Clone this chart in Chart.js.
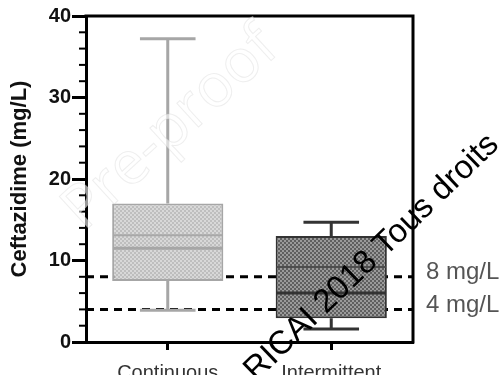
<!DOCTYPE html>
<html>
<head>
<meta charset="utf-8">
<script src="https://cdn.jsdelivr.net/npm/chart.js@4.4.0/dist/chart.umd.min.js"></script>
<style>
  html, body { margin: 0; padding: 0; background: #fff; }
  #wrap { width: 501px; height: 375px; }
</style>
</head>
<body>
<div id="wrap"><canvas id="myChart" width="501" height="375"></canvas></div>
<script>
// Box plot values
var categories = ['Continuous', 'Intermittent'];
var minValues = [3.9, 1.6];
var q1Values = [7.5, 2.9];
var medianValues = [11.5, 6.0];
var meanValues = [13.1, 9.2];
var q3Values = [17.0, 13.0];
var maxValues = [37.2, 14.7];

var thresholds = [8, 4];
var thresholdLabels = ['8 mg/L', '4 mg/L'];

var yMin = 0, yMax = 40;

// colours per box
var boxBase = ['#bebebe', '#5f5f5f'];
var boxDots = ['#d8d8d8', '#9a9a9a'];
var boxLine = ['#a6a6a6', '#333333'];
var meanLine = ['#a8a8a8', '#4e4e4e'];

function dotPattern(base, dot) {
    var c = document.createElement('canvas');
    c.width = 4; c.height = 4;
    var g = c.getContext('2d');
    g.fillStyle = base;
    g.fillRect(0, 0, 4, 4);
    g.fillStyle = dot;
    g.fillRect(0, 0, 2, 2);
    g.fillRect(2, 2, 2, 2);
    return g.createPattern(c, 'repeat');
}

var ctx = document.getElementById('myChart').getContext('2d');

var boxPlugin = {
    id: 'boxExtras',
    beforeDatasetsDraw: function (chart) {
        var c = chart.ctx, area = chart.chartArea;
        var x = chart.scales.x, y = chart.scales.y;
        c.save();
        // threshold lines (behind boxes)
        c.strokeStyle = '#000';
        c.lineWidth = 3;
        c.setLineDash([8, 6]);
        thresholds.forEach(function (t) {
            var py = y.getPixelForValue(t);
            c.beginPath();
            c.moveTo(area.left, py);
            c.lineTo(area.right, py);
            c.stroke();
        });
        c.setLineDash([]);
        // whiskers
        var meta = chart.getDatasetMeta(0);
        categories.forEach(function (cat, i) {
            var bar = meta.data[i];
            var cx = x.getPixelForValue(i);
            var half = bar.width / 4;
            c.strokeStyle = boxLine[i];
            c.lineWidth = 3;
            c.beginPath();
            c.moveTo(cx, y.getPixelForValue(q3Values[i]));
            c.lineTo(cx, y.getPixelForValue(maxValues[i]));
            c.moveTo(cx, y.getPixelForValue(q1Values[i]));
            c.lineTo(cx, y.getPixelForValue(minValues[i]));
            c.moveTo(cx - half, y.getPixelForValue(maxValues[i]));
            c.lineTo(cx + half, y.getPixelForValue(maxValues[i]));
            c.moveTo(cx - half, y.getPixelForValue(minValues[i]));
            c.lineTo(cx + half, y.getPixelForValue(minValues[i]));
            c.stroke();
        });
        c.restore();
    },
    afterDatasetsDraw: function (chart) {
        var c = chart.ctx, area = chart.chartArea;
        var y = chart.scales.y;
        var meta = chart.getDatasetMeta(0);
        c.save();
        categories.forEach(function (cat, i) {
            var bar = meta.data[i];
            var l = bar.x - bar.width / 2 + 1, r = bar.x + bar.width / 2 - 1;
            c.strokeStyle = meanLine[i];
            c.lineWidth = 2;
            c.beginPath();
            c.moveTo(l, y.getPixelForValue(meanValues[i]));
            c.lineTo(r, y.getPixelForValue(meanValues[i]));
            c.stroke();
            c.strokeStyle = boxLine[i];
            c.lineWidth = 3;
            c.beginPath();
            c.moveTo(l, y.getPixelForValue(medianValues[i]));
            c.lineTo(r, y.getPixelForValue(medianValues[i]));
            c.stroke();
        });
        // minor ticks on y
        c.strokeStyle = '#000';
        c.lineWidth = 2;
        for (var v = yMin; v <= yMax; v += 2) {
            if (v % 10 === 0) continue;
            var py = y.getPixelForValue(v);
            c.beginPath();
            c.moveTo(area.left - 7, py);
            c.lineTo(area.left, py);
            c.stroke();
        }
        // top and right frame
        c.lineWidth = 3;
        c.beginPath();
        c.moveTo(area.left - 1.5, area.top);
        c.lineTo(area.right, area.top);
        c.lineTo(area.right, area.bottom + 1.5);
        c.stroke();
        // threshold labels
        c.fillStyle = '#555';
        c.font = '24px "Liberation Sans", Arial, sans-serif';
        c.textAlign = 'left';
        c.textBaseline = 'middle';
        thresholds.forEach(function (t, i) {
            c.fillText(thresholdLabels[i], area.right + 13, y.getPixelForValue(t) - 4);
        });
        c.restore();
    },
    afterDraw: function (chart) {
        var c = chart.ctx;
        c.save();
        // faint pre-proof watermark
        c.translate(84, 232);
        c.rotate(-42.5 * Math.PI / 180);
        c.font = '60px "Open Sans", sans-serif';
        c.fillStyle = 'rgba(255,255,255,0.6)';
        c.fillText('Pre-proof', 0, 0);
        c.strokeStyle = 'rgba(200,200,200,0.3)';
        c.lineWidth = 1;
        c.strokeText('Pre-proof', 0, 0);
        c.restore();
        c.save();
        c.translate(256, 382);
        c.rotate(-44 * Math.PI / 180);
        c.fillStyle = '#000';
        c.font = '33px "Liberation Sans", Arial, sans-serif';
        c.textBaseline = 'alphabetic';
        c.fillText('RICAI 2018 Tous droits', 0, 0);
        c.restore();
    }
};

var graficoBox = new Chart(ctx, {
    type: 'bar',
    data: {
        labels: categories,
        datasets: [{
            label: 'Ceftazidime',
            data: categories.map(function (c, i) { return [q1Values[i], q3Values[i]]; }),
            backgroundColor: [dotPattern(boxBase[0], boxDots[0]), dotPattern(boxBase[1], boxDots[1])],
            borderColor: boxLine,
            borderWidth: 2,
            borderSkipped: false,
            categoryPercentage: 1,
            barPercentage: 0.68
        }]
    },
    plugins: [boxPlugin],
    options: {
        responsive: false,
        animation: false,
        layout: { padding: { top: 16, right: 88, left: 0, bottom: 0 } },
        plugins: {
            legend: { display: false },
            tooltip: { enabled: false }
        },
        scales: {
            x: {
                offset: true,
                afterFit: function (s) { s.height = 33; },
                grid: {
                    offset: false,
                    drawOnChartArea: false,
                    tickLength: 8,
                    tickWidth: 3,
                    tickColor: '#000'
                },
                border: { display: true, color: '#000', width: 3 },
                ticks: {
                    padding: 11,
                    color: '#333',
                    font: { family: '"Liberation Sans", Arial, sans-serif', size: 20 }
                }
            },
            y: {
                min: yMin,
                max: yMax,
                afterFit: function (s) { s.width = 86; },
                grid: {
                    drawOnChartArea: false,
                    tickLength: 14,
                    tickWidth: 3,
                    tickColor: function (c) { return c.tick && c.tick.value % 10 === 0 ? '#000' : 'rgba(0,0,0,0)'; }
                },
                border: { display: true, color: '#000', width: 3 },
                ticks: {
                    stepSize: 2,
                    autoSkip: false,
                    padding: 1,
                    color: '#111',
                    font: { family: '"Liberation Sans", Arial, sans-serif', size: 20, weight: 'bold' },
                    callback: function (v) { return v % 10 === 0 ? v : ''; }
                },
                title: {
                    display: true,
                    text: 'Ceftazidime (mg/L)',
                    color: '#111',
                    padding: { top: 7, bottom: 0 },
                    font: { family: '"Liberation Sans", Arial, sans-serif', size: 22, weight: 'bold' }
                }
            }
        }
    }
});
</script>
</body>
</html>
